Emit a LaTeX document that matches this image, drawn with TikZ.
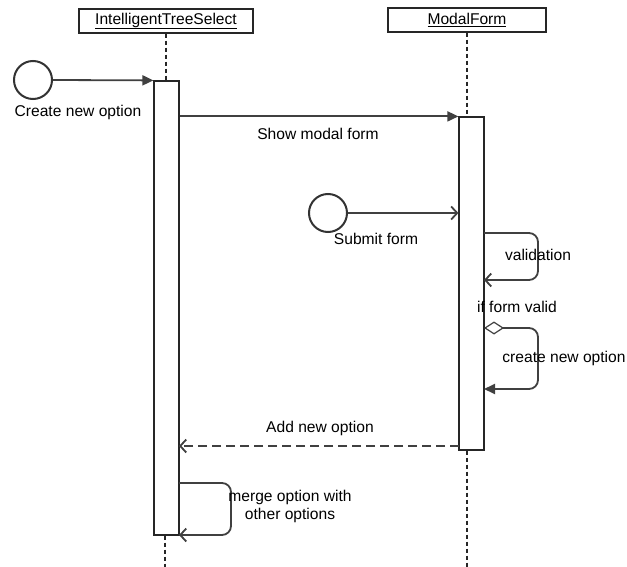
\documentclass[tikz,border=0pt]{standalone}
\usepackage{fontspec}
\setmainfont{Liberation Sans}
\usetikzlibrary{arrows.meta}
\begin{document}
\begin{tikzpicture}[x=1pt,y=-1pt,font=\fontsize{15.6}{18}\selectfont,
  header/.style={draw=black!85,line width=1.2pt,minimum height=24pt,inner sep=0pt},
  actbox/.style={draw=black!85,fill=white,line width=1.2pt,minimum width=25pt,inner sep=0pt},
  startcirc/.style={circle,draw=black!80,line width=2pt,minimum size=38pt,inner sep=0pt},
  lifeline/.style={draw=black!85,line width=1.1pt,dash pattern=on 4pt off 3pt},
  msg/.style={draw=black!75,line width=1.8pt},
  filled/.style={-{Triangle[length=11pt,width=10pt]}},
  openhead/.style={-{Straight Barb[length=6pt,width=13pt,line width=1.8pt]}},
  lbl/.style={inner sep=0pt,text=black}]
\useasboundingbox (0,0) rectangle (627,567);

% headers
\node[header,minimum width=174pt] (its) at (166,21) {\underline{IntelligentTreeSelect}};
\node[header,minimum width=158pt] (mf) at (467,20) {\underline{ModalForm}};

% lifelines
\coordinate (l1top) at (166,81);
\coordinate (l1bot) at (165,567);
\coordinate (l2top) at (467,117);
\coordinate (l2bot) at (467,567);
\draw[lifeline] (its.south) -- (l1top);
\draw[lifeline] (mf.south) -- (l2top);

% activations
\node[actbox,minimum height=454pt] (a1) at (166.5,308) {};
\node[actbox,minimum height=333pt] (a2) at (471.5,283.5) {};
\draw[lifeline] (a1.south -| l1bot) -- (l1bot);
\draw[lifeline] (a2.south -| l2bot) -- (l2bot);

% start circles
\node[startcirc] (c1) at (33,80) {};
\node[startcirc] (c2) at (328,213) {};

% create new option
\draw[msg,filled] (c1.east) -- (a1.north west);
\node[lbl] (t1) at (78,112) {Create new option};

% show modal form
\draw[msg,filled] (a1.east |- a2.north) -- (a2.north west);
\node[lbl] (t2) at (318,134) {Show modal form};

% submit form
\draw[msg,openhead] (c2.east) -- (c2.east -| a2.west);
\node[lbl] (t3) at (376,239) {Submit form};

% validation
\coordinate (v1) at (484,233);
\coordinate (v2) at (538,233);
\coordinate (v3) at (538,280);
\coordinate (v4) at (484,280);
\draw[msg,openhead,rounded corners=9pt] (v1) -- (v2) -- (v3) -- (v4);
\node[lbl] (t4) at (538,255) {validation};

% if form valid
\node[lbl] (t5) at (517,307) {if form valid};
\coordinate (d1) at (484,328);
\coordinate (d2) at (538,328);
\coordinate (d3) at (538,389);
\coordinate (d4) at (484,389);
\draw[msg,{Diamond[open,length=20pt,width=13pt,line width=1.2pt]}-{Triangle[length=11pt,width=10pt]},rounded corners=9pt] (d1) -- (d2) -- (d3) -- (d4);
\node[lbl] (t6) at (564,358) {create new option};

% add new option
\coordinate (n1) at (459,446);
\coordinate (n2) at (179,446);
\draw[msg,openhead,dash pattern=on 9pt off 5pt] (n1) -- (n2);
\node[lbl] (t7) at (320,428) {Add new option};

% merge
\coordinate (m1) at (179,483);
\coordinate (m2) at (231,483);
\coordinate (m3) at (231,535);
\coordinate (m4) at (179,535);
\draw[msg,openhead,rounded corners=9pt] (m1) -- (m2) -- (m3) -- (m4);
\node[lbl,align=center] (t8) at (290,506) {merge option with\\other options};
\end{tikzpicture}
\end{document}
